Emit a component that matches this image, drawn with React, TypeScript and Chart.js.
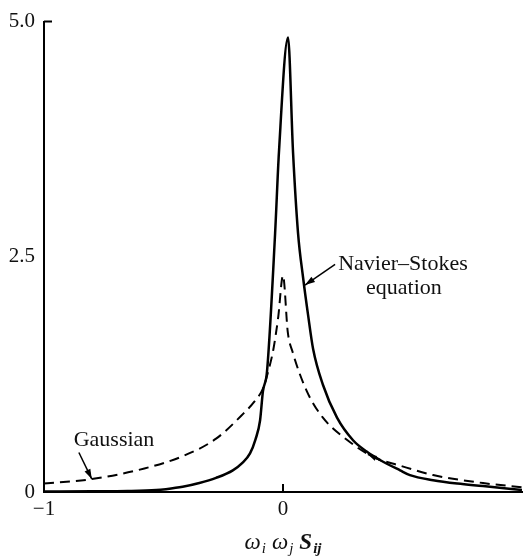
import React, { useEffect, useRef } from "react";
import { Chart, registerables } from "chart.js";

Chart.register(...registerables);

// Navier–Stokes equation curve (solid)
const xNS = [-1, -0.8, -0.65, -0.53, -0.49, -0.42, -0.35, -0.28, -0.21, -0.17, -0.138, -0.115, -0.096, -0.084, -0.067, -0.033, -0.017, 0.021, 0.042, 0.063, 0.084, 0.105, 0.126, 0.167, 0.226, 0.293, 0.35, 0.406, 0.49, 0.531, 0.628, 0.73, 0.837, 1.0];
const yNS = [0.005, 0.007, 0.01, 0.02, 0.03, 0.055, 0.095, 0.15, 0.23, 0.31, 0.41, 0.56, 0.76, 1.07, 1.28, 2.75, 3.61, 4.83, 3.61, 2.75, 2.28, 1.88, 1.52, 1.14, 0.79, 0.55, 0.43, 0.34, 0.23, 0.18, 0.126, 0.09, 0.063, 0.02];

// Gaussian curve (dashed)
const xGauss = [-1, -0.8, -0.58, -0.42, -0.28, -0.167, -0.12, -0.084, -0.06, -0.04, -0.02, 0, 0.02, 0.04, 0.1, 0.167, 0.27, 0.38, 0.49, 0.628, 0.837, 1.0];
const yGauss = [0.09, 0.137, 0.25, 0.38, 0.567, 0.83, 0.96, 1.1, 1.3, 1.52, 1.86, 2.3, 1.7, 1.49, 1.07, 0.79, 0.55, 0.37, 0.28, 0.18, 0.095, 0.05];

// Tick values and labels
const xTickValues = [-1, 0];
const xTickLabels = ["\u22121", "0"];
const yTickValues = [0, 2.5, 5];
const yTickLabels = ["0", "2.5", "5.0"];

// Annotation texts
const gaussLabel = "Gaussian";
const nsLabel = ["Navier\u2013Stokes", "equation"];
const axisTitle = [
  { t: "\u03c9", sub: "i", bold: false },
  { t: "\u03c9", sub: "j", bold: false },
  { t: "S", sub: "ij", bold: true },
];

const SERIF = '"Liberation Serif", "Times New Roman", serif';

function arrow(ctx: CanvasRenderingContext2D, x1: number, y1: number, x2: number, y2: number, L = 10, W = 3.2) {
  ctx.beginPath();
  ctx.moveTo(x1, y1);
  ctx.lineTo(x2, y2);
  ctx.stroke();
  const a = Math.atan2(y2 - y1, x2 - x1);
  ctx.beginPath();
  ctx.moveTo(x2, y2);
  ctx.lineTo(x2 - L * Math.cos(a) + W * Math.sin(a), y2 - L * Math.sin(a) - W * Math.cos(a));
  ctx.lineTo(x2 - L * Math.cos(a) - W * Math.sin(a), y2 - L * Math.sin(a) + W * Math.cos(a));
  ctx.closePath();
  ctx.fill();
}

const annotPlugin = {
  id: "annot",
  afterDraw(chart: any) {
    const { ctx } = chart;
    const xs = chart.scales.x;
    const ys = chart.scales.y;
    const px = (v: number) => xs.getPixelForValue(v);
    const py = (v: number) => ys.getPixelForValue(v);
    ctx.save();
    ctx.strokeStyle = "#000";
    ctx.fillStyle = "#000";

    // inward tick marks
    ctx.lineWidth = 2;
    ctx.beginPath();
    ctx.moveTo(px(-1), py(5));
    ctx.lineTo(px(-1) + 8, py(5));
    ctx.moveTo(px(0), py(0));
    ctx.lineTo(px(0), py(0) - 8);
    ctx.stroke();

    // Gaussian label + arrow
    ctx.font = `22px ${SERIF}`;
    ctx.fillStyle = "#111";
    ctx.textAlign = "center";
    ctx.textBaseline = "middle";
    ctx.fillText(gaussLabel, px(-0.707), py(0.546));
    ctx.lineWidth = 1.5;
    ctx.fillStyle = "#000";
    arrow(ctx, px(-0.854), py(0.42), px(-0.8), py(0.137));

    // Navier–Stokes label + arrow
    ctx.fillStyle = "#111";
    ctx.fillText(nsLabel[0], px(0.502), py(2.42));
    ctx.fillText(nsLabel[1], px(0.506), py(2.17));
    ctx.fillStyle = "#000";
    arrow(ctx, px(0.218), py(2.42), px(0.092), py(2.2));

    // small arrowhead where the curves meet
    arrow(ctx, px(0.41), py(0.33), px(0.355), py(0.4), 9, 2.6);

    // axis title with subscripts
    const mainFont = (b: boolean) => `italic ${b ? "bold " : ""}23px ${SERIF}`;
    const subFont = (b: boolean) => `italic ${b ? "bold " : ""}15px ${SERIF}`;
    let total = 0;
    const gap = 6;
    const widths = axisTitle.map((p) => {
      ctx.font = mainFont(p.bold);
      const w1 = ctx.measureText(p.t).width;
      ctx.font = subFont(p.bold);
      const w2 = ctx.measureText(p.sub).width;
      return [w1, w2];
    });
    widths.forEach((w, i) => {
      total += w[0] + w[1] + 1 + (i < widths.length - 1 ? gap : 0);
    });
    let cx = px(0) - total / 2;
    const base = 549;
    ctx.textAlign = "left";
    ctx.textBaseline = "alphabetic";
    ctx.fillStyle = "#111";
    axisTitle.forEach((p, i) => {
      ctx.font = mainFont(p.bold);
      ctx.fillText(p.t, cx, base);
      cx += widths[i][0] + 1;
      ctx.font = subFont(p.bold);
      ctx.fillText(p.sub, cx, base + 4);
      cx += widths[i][1] + gap;
    });
    ctx.restore();
  },
};

export default function App() {
  const ref = useRef<HTMLCanvasElement | null>(null);
  useEffect(() => {
    if (!ref.current) return;
    const chart = new Chart(ref.current, {
      type: "line",
      data: {
        datasets: [
          {
            label: "Navier\u2013Stokes equation",
            data: xNS.map((x, i) => ({ x, y: yNS[i] })),
            borderColor: "#000",
            borderWidth: 2.5,
            pointRadius: 0,
            fill: false,
            cubicInterpolationMode: "monotone",
          },
          {
            label: "Gaussian",
            data: xGauss.map((x, i) => ({ x, y: yGauss[i] })),
            borderColor: "#000",
            borderWidth: 2,
            borderDash: [10, 6],
            pointRadius: 0,
            fill: false,
            cubicInterpolationMode: "monotone",
          },
        ],
      },
      options: {
        animation: false,
        responsive: false,
        maintainAspectRatio: false,
        devicePixelRatio: 1,
        layout: { padding: { left: 0, top: 16, right: 1, bottom: 0 } },
        plugins: { legend: { display: false }, tooltip: { enabled: false } },
        scales: {
          x: {
            type: "linear",
            min: -1,
            max: 1,
            afterFit: (s: any) => {
              s.height = 65;
            },
            afterBuildTicks: (s: any) => {
              s.ticks = xTickValues.map((v) => ({ value: v }));
            },
            grid: { display: false, drawTicks: false },
            border: { display: true, color: "#000", width: 2 },
            ticks: {
              autoSkip: false,
              maxRotation: 0,
              padding: 5,
              color: "#111",
              font: { family: SERIF, size: 21 },
              callback: (v: any) => {
                const i = xTickValues.indexOf(Number(v));
                return i >= 0 ? xTickLabels[i] : "";
              },
            },
          },
          y: {
            type: "linear",
            min: 0,
            max: 5,
            afterFit: (s: any) => {
              s.width = 44;
            },
            afterBuildTicks: (s: any) => {
              s.ticks = yTickValues.map((v) => ({ value: v }));
            },
            grid: { display: false, drawTicks: false },
            border: { display: true, color: "#000", width: 2 },
            ticks: {
              autoSkip: false,
              padding: 9,
              color: "#111",
              font: { family: SERIF, size: 21 },
              callback: (v: any) => {
                const i = yTickValues.indexOf(Number(v));
                return i >= 0 ? yTickLabels[i] : "";
              },
            },
          },
        },
      },
      plugins: [annotPlugin],
    });
    return () => chart.destroy();
  }, []);
  return (
    <div style={{ position: "fixed", left: 0, top: 0, width: 523, height: 557, background: "#fff" }}>
      <canvas ref={ref} width={523} height={557} />
    </div>
  );
}
